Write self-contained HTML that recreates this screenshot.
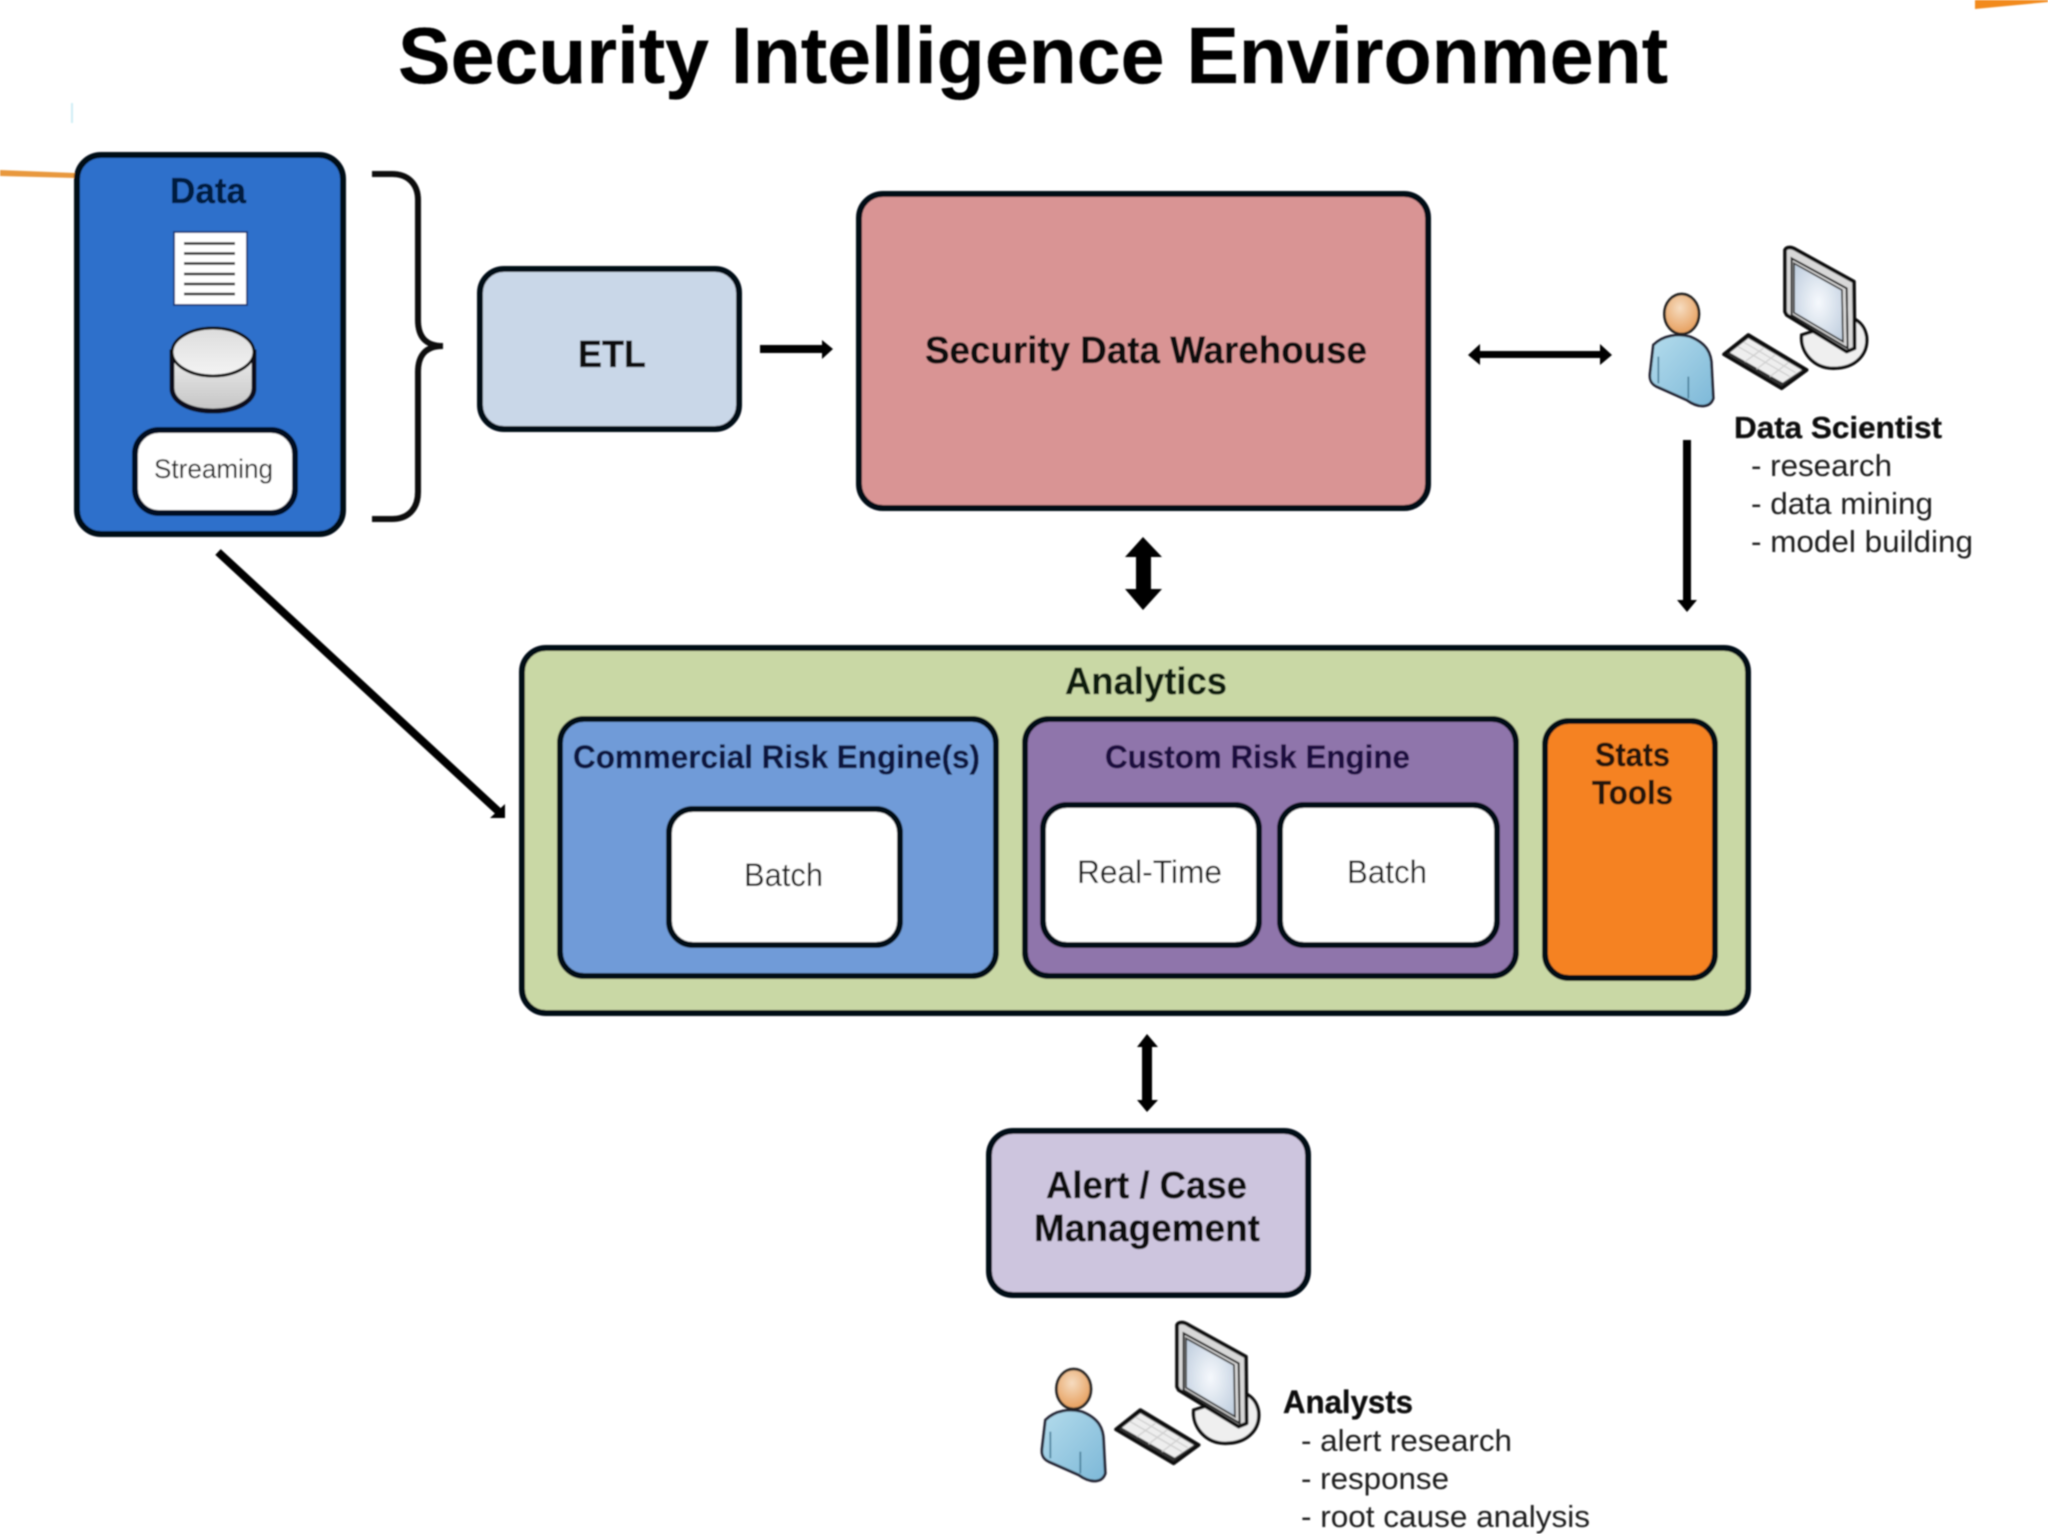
<!DOCTYPE html>
<html><head><meta charset="utf-8"><style>html,body{margin:0;padding:0;background:#fff}svg{display:block}
text{font-family:"Liberation Sans",sans-serif;fill:#0a0a0a}.b{font-weight:700;stroke:currentColor;stroke-width:.3}.r{fill:#1c1c1c}</style></head><body>
<svg xmlns="http://www.w3.org/2000/svg" width="2048" height="1536" viewBox="0 0 2048 1536">
<defs>
<filter id="soft" x="0" y="0" width="100%" height="100%"><feGaussianBlur stdDeviation="0.7"/></filter>
<linearGradient id="cyl" x1="0" y1="0" x2="0" y2="1"><stop offset="0" stop-color="#eee"/><stop offset="1" stop-color="#c4c4c4"/></linearGradient>
<linearGradient id="cyl2" x1="0" y1="0" x2="0" y2="1"><stop offset="0" stop-color="#dcdcdc"/><stop offset="1" stop-color="#f4f4f4"/></linearGradient>
<linearGradient id="bd" x1="0" y1="0" x2="1" y2="1"><stop offset="0" stop-color="#b4dcec"/><stop offset="1" stop-color="#7db8d8"/></linearGradient>
<radialGradient id="hd" cx=".45" cy=".35" r=".7"><stop offset="0" stop-color="#f6dcc0"/><stop offset="1" stop-color="#e59a55"/></radialGradient>
<radialGradient id="scr" cx=".5" cy=".5" r=".7"><stop offset="0" stop-color="#f6f9fd"/><stop offset="1" stop-color="#bccbdc"/></radialGradient>
<g id="icon">
<path d="M100,375C130,345 175,340 210,350C260,370 275,400 275,440L280,535C270,565 235,565 200,540L110,500C90,490 88,475 90,460Z" fill="url(#bd)" stroke="#223" stroke-width="8"/>
<path d="M115,410V490M205,470V535" stroke="#4a7f9a" stroke-width="5" fill="none"/>
<ellipse cx="185" cy="282" rx="52" ry="60" fill="url(#hd)" stroke="#222" stroke-width="8"/>
<path d="M545,345C540,395 580,445 640,445C710,445 745,400 740,350C735,320 720,305 700,295Z" fill="#efefef" stroke="#111" stroke-width="10"/>
<path d="M495,90C500,80 515,80 530,90L702,185L704,385L680,395L500,285L495,275Z" fill="#d8d8d8" stroke="#111" stroke-width="11" stroke-linejoin="round"/>
<path d="M515,115L680,205L683,385L515,285Z" fill="none" stroke="#222" stroke-width="6"/>
<path d="M522,130L666,210L669,365L522,278Z" fill="url(#scr)" stroke="#333" stroke-width="5"/>
<path d="M312,403L385,345L560,450L485,505Z" fill="#333" stroke="#111" stroke-width="11" stroke-linejoin="round"/>
<path d="M330,398L385,355L545,450L488,488Z" fill="#eee"/>
<path d="M355,380L510,470M372,367L527,458M375,425L430,385M410,447L465,405M450,470L505,428" stroke="#d0d0d0" stroke-width="4" fill="none"/>
</g>
</defs>
<rect width="2048" height="1536" fill="#fff"/>
<g filter="url(#soft)">
<path d="M0,170L75,173V178L0,176Z" fill="#e8983c"/>
<path d="M1975,0H2048V2L1975,9Z" fill="#f28a1e"/>
<rect x="71" y="103" width="2" height="20" fill="#cfeef5"/>

<text class="b" x="398" y="83" font-size="80" textLength="1270" lengthAdjust="spacingAndGlyphs" style="fill:#000;color:#000">Security Intelligence Environment</text>

<!-- Data -->
<rect x="77" y="155" width="266" height="379" rx="24" fill="#2f6fcb" stroke="#060a18" stroke-width="6"/>
<text class="b" x="170" y="203" font-size="36" textLength="76" lengthAdjust="spacingAndGlyphs" style="fill:#061a40;color:#061a40">Data</text>
<rect x="174" y="232" width="73" height="73" fill="#fff" stroke="#1d3f80" stroke-width="2"/>
<path d="M184,243.500H235M184,253.500H235M184,263.500H235M184,274H235M184,284H235M184,294H235" stroke="#222" stroke-width="2.500"/>
<path d="M172,352V388C172,402 190,411 213,411C236,411 254,402 254,388V352Z" fill="url(#cyl)" stroke="#0a0f1e" stroke-width="5"/>
<ellipse cx="213" cy="352" rx="41" ry="24" fill="url(#cyl2)" stroke="#111" stroke-width="3"/>
<rect x="135" y="430" width="160" height="83" rx="24" fill="#fff" stroke="#060a24" stroke-width="6"/>
<text x="154" y="478" font-size="27" textLength="119" lengthAdjust="spacingAndGlyphs" class="r">Streaming</text>

<!-- Brace -->
<path d="M372,174H392C408,174 418,184 418,200V320C418,337 426,346 443,346C426,346 418,355 418,372V492C418,509 408,519 392,519H372" fill="none" stroke="#111" stroke-width="6"/>

<!-- ETL -->
<rect x="480" y="269" width="259" height="160" rx="24" fill="#c9d7e8" stroke="#060a18" stroke-width="6"/>
<text class="b" x="578" y="367" font-size="38" textLength="68" lengthAdjust="spacingAndGlyphs" style="color:#0a0a0a">ETL</text>
<!-- Warehouse -->
<rect x="859" y="194" width="569" height="314" rx="24" fill="#d99494" stroke="#060a18" stroke-width="6"/>
<text class="b" x="925" y="363" font-size="38" textLength="442" lengthAdjust="spacingAndGlyphs" style="color:#0a0a0a">Security Data Warehouse</text>

<!-- Analytics -->
<rect x="522" y="648" width="1226" height="365" rx="24" fill="#c9d8a5" stroke="#060a18" stroke-width="6"/>
<text class="b" x="1065" y="694" font-size="38" textLength="162" lengthAdjust="spacingAndGlyphs" style="fill:#0f1f10;color:#0f1f10">Analytics</text>

<rect x="560" y="719" width="436" height="257" rx="24" fill="#6f9bd8" stroke="#060a18" stroke-width="6"/>
<text class="b" x="573" y="768" font-size="32" textLength="407" lengthAdjust="spacingAndGlyphs" style="fill:#0a1440;color:#0a1440">Commercial Risk Engine(s)</text>
<rect x="669" y="809" width="231" height="136" rx="24" fill="#fff" stroke="#060a18" stroke-width="6"/>
<text x="744" y="886" font-size="32" textLength="79" lengthAdjust="spacingAndGlyphs" class="r">Batch</text>

<rect x="1025" y="719" width="491" height="257" rx="24" fill="#8f75ab" stroke="#060a18" stroke-width="6"/>
<text class="b" x="1105" y="768" font-size="32" textLength="305" lengthAdjust="spacingAndGlyphs" style="fill:#1d0e40;color:#1d0e40">Custom Risk Engine</text>
<rect x="1043" y="805" width="216" height="140" rx="24" fill="#fff" stroke="#060a18" stroke-width="6"/>
<text x="1077" y="883" font-size="32" textLength="145" lengthAdjust="spacingAndGlyphs" class="r">Real-Time</text>
<rect x="1280" y="805" width="217" height="140" rx="24" fill="#fff" stroke="#060a18" stroke-width="6"/>
<text x="1347" y="883" font-size="32" textLength="80" lengthAdjust="spacingAndGlyphs" class="r">Batch</text>

<rect x="1545" y="721" width="170" height="257" rx="24" fill="#f58220" stroke="#060a18" stroke-width="6"/>
<text class="b" x="1595" y="766" font-size="33" textLength="75" lengthAdjust="spacingAndGlyphs" style="fill:#231208;color:#231208">Stats</text>
<text class="b" x="1592" y="804" font-size="33" textLength="81" lengthAdjust="spacingAndGlyphs" style="fill:#231208;color:#231208">Tools</text>

<!-- Alert -->
<rect x="989" y="1131" width="319" height="164" rx="24" fill="#cdc5de" stroke="#060a18" stroke-width="6"/>
<text class="b" x="1046" y="1198" font-size="38" textLength="201" lengthAdjust="spacingAndGlyphs" style="color:#0a0a0a">Alert / Case</text>
<text class="b" x="1034" y="1241" font-size="38" textLength="226" lengthAdjust="spacingAndGlyphs" style="color:#0a0a0a">Management</text>

<!-- Arrows -->
<polygon points="760,345 822,345 822,340 833,349 822,359 822,353 760,353" fill="#000"/>
<polygon points="1468,355 1480,344 1480,351 1600,351 1600,344 1612,355 1600,365 1600,358 1480,358 1480,365" fill="#000"/>
<polygon points="1143,537 1162,557 1151,557 1151,589 1162,589 1143,610 1125,589 1136,589 1136,557 1125,557" fill="#000"/>
<polygon points="1683,440 1691,440 1691,600 1697,600 1687,612 1677,600 1683,600" fill="#000"/>
<path d="M218,552L498,811" stroke="#000" stroke-width="8"/><polygon points="505,804 505,818 490,818" fill="#000"/>
<polygon points="1147,1034 1158,1047 1152,1047 1152,1100 1158,1100 1147,1112 1137,1100 1142,1100 1142,1047 1137,1047" fill="#000"/>

<!-- Icons -->
<use href="#icon" transform="translate(1620,220) scale(.3333)"/>
<use href="#icon" transform="translate(1012,1295) scale(.3333)"/>

<text class="b" x="1734" y="438" font-size="31" textLength="208" lengthAdjust="spacingAndGlyphs" style="color:#0a0a0a">Data Scientist</text>
<text x="1751" y="476" font-size="31" textLength="141" lengthAdjust="spacingAndGlyphs" class="r">- research</text>
<text x="1751" y="514" font-size="31" textLength="182" lengthAdjust="spacingAndGlyphs" class="r">- data mining</text>
<text x="1751" y="552" font-size="31" textLength="222" lengthAdjust="spacingAndGlyphs" class="r">- model building</text>

<text class="b" x="1283" y="1413" font-size="32" textLength="130" lengthAdjust="spacingAndGlyphs" style="color:#0a0a0a">Analysts</text>
<text x="1301" y="1451" font-size="31" textLength="211" lengthAdjust="spacingAndGlyphs" class="r">- alert research</text>
<text x="1301" y="1489" font-size="31" textLength="148" lengthAdjust="spacingAndGlyphs" class="r">- response</text>
<text x="1301" y="1527" font-size="31" textLength="289" lengthAdjust="spacingAndGlyphs" class="r">- root cause analysis</text>
</g>
</svg>
</body></html>
